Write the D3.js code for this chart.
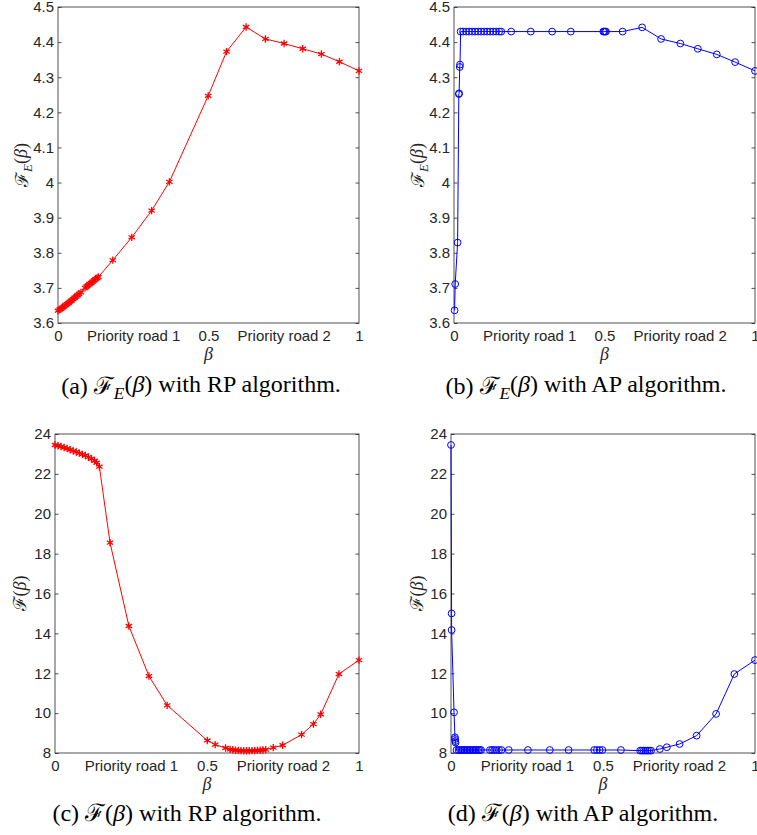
<!DOCTYPE html>
<html>
<head>
<meta charset="utf-8">
<script src="https://cdn.jsdelivr.net/npm/d3@7"></script>
<style>
  body { margin: 0; background: #fff; }
  svg { display: block; }
</style>
</head>
<body>
<div id="chart-area"></div>
<script>
// x axis: beta, with two text labels between the numbers
var xTickValues = [0, 0.25, 0.5, 0.75, 1];
var xTickLabels = ["0", "Priority road 1", "0.5", "Priority road 2", "1"];

var yTicksE = [3.6, 3.7, 3.8, 3.9, 4.0, 4.1, 4.2, 4.3, 4.4, 4.5];
var yTicksF = [8, 10, 12, 14, 16, 18, 20, 22, 24];

// (a) F_E(beta), RP algorithm
var rpEBeta = [0, 0.005, 0.01, 0.015, 0.02, 0.025, 0.03, 0.035, 0.04, 0.045, 0.05, 0.055, 0.06, 0.065, 0.07, 0.076,
  0.09, 0.095, 0.1, 0.105, 0.11, 0.115, 0.12, 0.125, 0.13, 0.134,
  0.182, 0.245, 0.311, 0.37, 0.499, 0.56, 0.625, 0.689, 0.751, 0.813, 0.875, 0.935, 1];
var rpEValue = [3.635, 3.638, 3.641, 3.644, 3.647, 3.651, 3.654, 3.657, 3.661, 3.664, 3.668, 3.672, 3.675, 3.679, 3.683, 3.687,
  3.700, 3.704, 3.707, 3.711, 3.714, 3.718, 3.721, 3.725, 3.728, 3.731,
  3.779, 3.844, 3.920, 4.002, 4.247, 4.373, 4.443, 4.409, 4.396, 4.381, 4.366, 4.344, 4.318];

// (b) F_E(beta), AP algorithm
var apEBeta = [0.002, 0.004, 0.012, 0.016, 0.017, 0.019, 0.02, 0.022,
  0.03, 0.04, 0.05, 0.06, 0.07, 0.08, 0.09, 0.1, 0.11, 0.12, 0.13, 0.14, 0.15, 0.157,
  0.19, 0.255, 0.326, 0.388, 0.496, 0.499, 0.502, 0.505, 0.56,
  0.625, 0.688, 0.752, 0.81, 0.873, 0.934, 1];
var apEValue = [3.636, 3.711, 3.829, 4.252, 4.254, 4.329, 4.336, 4.43,
  4.43, 4.43, 4.43, 4.43, 4.43, 4.43, 4.43, 4.43, 4.43, 4.43, 4.43, 4.43, 4.43, 4.43,
  4.43, 4.43, 4.43, 4.43, 4.43, 4.43, 4.43, 4.43, 4.43,
  4.442, 4.409, 4.396, 4.381, 4.365, 4.343, 4.318];

// (c) F(beta), RP algorithm
var rpBeta = [0, 0.01, 0.02, 0.03, 0.04, 0.05, 0.06, 0.07, 0.08, 0.09, 0.1, 0.11, 0.12, 0.13, 0.137, 0.146,
  0.181, 0.243, 0.309, 0.369, 0.501, 0.527, 0.561,
  0.576, 0.585, 0.594, 0.603, 0.612, 0.621, 0.63, 0.639, 0.648, 0.657, 0.666, 0.675, 0.684, 0.693,
  0.718, 0.749, 0.811, 0.85, 0.874, 0.934, 1];
var rpValue = [23.45, 23.41, 23.37, 23.32, 23.27, 23.21, 23.15, 23.1, 23.04, 22.98, 22.92, 22.84, 22.76, 22.66, 22.56, 22.36,
  18.55, 14.37, 11.86, 10.39, 8.63, 8.42, 8.25,
  8.18, 8.16, 8.14, 8.13, 8.12, 8.11, 8.11, 8.11, 8.12, 8.12, 8.13, 8.14, 8.15, 8.17,
  8.27, 8.39, 8.92, 9.45, 9.94, 11.96, 12.66];

// (d) F(beta), AP algorithm
var apBeta = [0, 0.002, 0.002, 0.01, 0.013, 0.013, 0.014, 0.015, 0.018,
  0.025, 0.03, 0.035, 0.04, 0.045, 0.05, 0.055, 0.06, 0.065, 0.07, 0.075, 0.08, 0.085, 0.09, 0.095, 0.099,
  0.128, 0.135, 0.142, 0.15, 0.158, 0.166, 0.19, 0.253, 0.325, 0.387,
  0.471, 0.48, 0.489, 0.498, 0.559,
  0.622, 0.628, 0.634, 0.64, 0.646, 0.652, 0.658,
  0.687, 0.71, 0.752, 0.808, 0.872, 0.932, 1];
var apValue = [23.45, 15.0, 14.17, 10.04, 8.79, 8.7, 8.6, 8.52, 8.15,
  8.15, 8.15, 8.15, 8.15, 8.15, 8.15, 8.15, 8.15, 8.15, 8.15, 8.15, 8.15, 8.15, 8.15, 8.15, 8.15,
  8.15, 8.15, 8.15, 8.15, 8.15, 8.15, 8.15, 8.15, 8.15, 8.15,
  8.15, 8.15, 8.15, 8.15, 8.15,
  8.12, 8.12, 8.12, 8.12, 8.12, 8.12, 8.12,
  8.2, 8.29, 8.45, 8.87, 9.96, 11.96, 12.66];

var tickColor = "#262626";
var axisFont = "'Liberation Sans', Arial, Helvetica, sans-serif";
var mathFont = "'Liberation Serif', 'DejaVu Serif', serif";

var panels = [
  { left: 58, right: 359, top: 7, bottom: 323, beta: rpEBeta, value: rpEValue, yTicks: yTicksE,
    domain: [3.6, 4.5], color: "#ff0000", marker: "star", sub: "E", labelX: 22, capX: 201, capY: 394, tag: "(a)", alg: "RP" },
  { left: 454, right: 755, top: 7, bottom: 323, beta: apEBeta, value: apEValue, yTicks: yTicksE,
    domain: [3.6, 4.5], color: "#0000ff", marker: "circle", sub: "E", labelX: 418, capX: 586, capY: 394, tag: "(b)", alg: "AP" },
  { left: 55, right: 359, top: 434, bottom: 753, beta: rpBeta, value: rpValue, yTicks: yTicksF,
    domain: [8, 24], color: "#ff0000", marker: "star", sub: null, labelX: 20, capX: 187, capY: 821, tag: "(c)", alg: "RP" },
  { left: 451, right: 755, top: 434, bottom: 753, beta: apBeta, value: apValue, yTicks: yTicksF,
    domain: [8, 24], color: "#0000ff", marker: "circle", sub: null, labelX: 417, capX: 583, capY: 821, tag: "(d)", alg: "AP" }
];

var svg = d3.select("#chart-area")
  .append("svg")
  .attr("width", 757)
  .attr("height", 835);

var starSymbol = d3.symbol().type(d3.symbolAsterisk || d3.symbolCross).size(38);

function formatTick(d) {
  return String(+d.toFixed(1));
}

// writes "F_E(beta)" or "F(beta)" into a text node
function mathLabel(text, sub) {
  text.append("tspan").attr("font-family", "'DejaVu Serif', serif").text("\u2131");
  if (sub) {
    text.append("tspan")
      .attr("font-style", "italic")
      .attr("font-size", "0.72em")
      .attr("dy", "0.3em")
      .text(sub);
    text.append("tspan").attr("dy", "-0.3em").text("(");
  } else {
    text.append("tspan").text("(");
  }
  text.append("tspan").attr("font-style", "italic").text("\u03b2");
  text.append("tspan").text(")");
}

panels.forEach(function(p) {
  var x = d3.scaleLinear().domain([0, 1]).range([p.left, p.right]);
  var y = d3.scaleLinear().domain(p.domain).range([p.bottom, p.top]);

  var g = svg.append("g");

  // y axis, ticks pointing inward on both sides
  var yAxisLeft = d3.axisLeft(y)
    .tickValues(p.yTicks)
    .tickFormat(formatTick)
    .tickSizeInner(-3.5)
    .tickSizeOuter(0)
    .tickPadding(4);

  var yl = g.append("g")
    .attr("transform", "translate(" + p.left + ",0)")
    .call(yAxisLeft);

  var yr = g.append("g")
    .attr("transform", "translate(" + p.right + ",0)")
    .call(d3.axisRight(y).tickValues(p.yTicks).tickFormat("").tickSizeInner(-3.5).tickSizeOuter(0));

  var xb = g.append("g")
    .attr("transform", "translate(0," + p.bottom + ")")
    .call(d3.axisBottom(x)
      .tickValues(xTickValues)
      .tickFormat(function(d, i) { return xTickLabels[i]; })
      .tickSize(0)
      .tickPadding(7));

  [yl, yr, xb].forEach(function(a) {
    a.select(".domain").remove();
    a.selectAll("line").attr("stroke", tickColor).attr("stroke-width", 0.8);
    a.selectAll("text")
      .attr("fill", tickColor)
      .style("font-family", axisFont)
      .style("font-size", "15px");
  });

  g.append("rect")
    .attr("x", p.left)
    .attr("y", p.top)
    .attr("width", p.right - p.left)
    .attr("height", p.bottom - p.top)
    .attr("fill", "none")
    .attr("stroke", tickColor)
    .attr("stroke-width", 0.8);

  var pts = p.beta.map(function(b, i) { return [b, p.value[i]]; });

  var line = d3.line()
    .x(function(d) { return x(d[0]); })
    .y(function(d) { return y(d[1]); });

  g.append("path")
    .datum(pts)
    .attr("d", line)
    .attr("fill", "none")
    .attr("stroke", p.color)
    .attr("stroke-width", 1);

  if (p.marker === "circle") {
    g.selectAll(".mark")
      .data(pts)
      .enter()
      .append("circle")
      .attr("class", "mark")
      .attr("cx", function(d) { return x(d[0]); })
      .attr("cy", function(d) { return y(d[1]); })
      .attr("r", 3.4)
      .attr("fill", "none")
      .attr("stroke", p.color)
      .attr("stroke-width", 1);
  } else {
    g.selectAll(".mark")
      .data(pts)
      .enter()
      .append("path")
      .attr("class", "mark")
      .attr("d", starSymbol)
      .attr("transform", function(d) { return "translate(" + x(d[0]) + "," + y(d[1]) + ")"; })
      .attr("fill", "none")
      .attr("stroke", p.color)
      .attr("stroke-width", 1.3);
  }

  // axis titles
  g.append("text")
    .attr("x", (p.left + p.right) / 2)
    .attr("y", 360)
    .attr("transform", p.top > 100 ? "translate(0,430)" : null)
    .attr("text-anchor", "middle")
    .attr("fill", tickColor)
    .style("font-family", mathFont)
    .style("font-style", "italic")
    .style("font-size", "18px")
    .text("\u03b2");

  var yTitle = g.append("text")
    .attr("transform", "translate(" + (p.labelX + 6) + "," + ((p.top + p.bottom) / 2) + ") rotate(-90)")
    .attr("text-anchor", "middle")
    .attr("fill", tickColor)
    .style("font-family", mathFont)
    .style("font-size", "18px");
  mathLabel(yTitle, p.sub);

  // caption
  var cap = svg.append("text")
    .attr("x", p.capX)
    .attr("y", p.capY)
    .attr("text-anchor", "middle")
    .attr("fill", "#000")
    .style("font-family", mathFont)
    .style("font-size", "24px");
  cap.append("tspan").text(p.tag + " ");
  mathLabel(cap, p.sub);
  cap.append("tspan").text(" with " + p.alg + " algorithm.");
});
</script>
</body>
</html>
